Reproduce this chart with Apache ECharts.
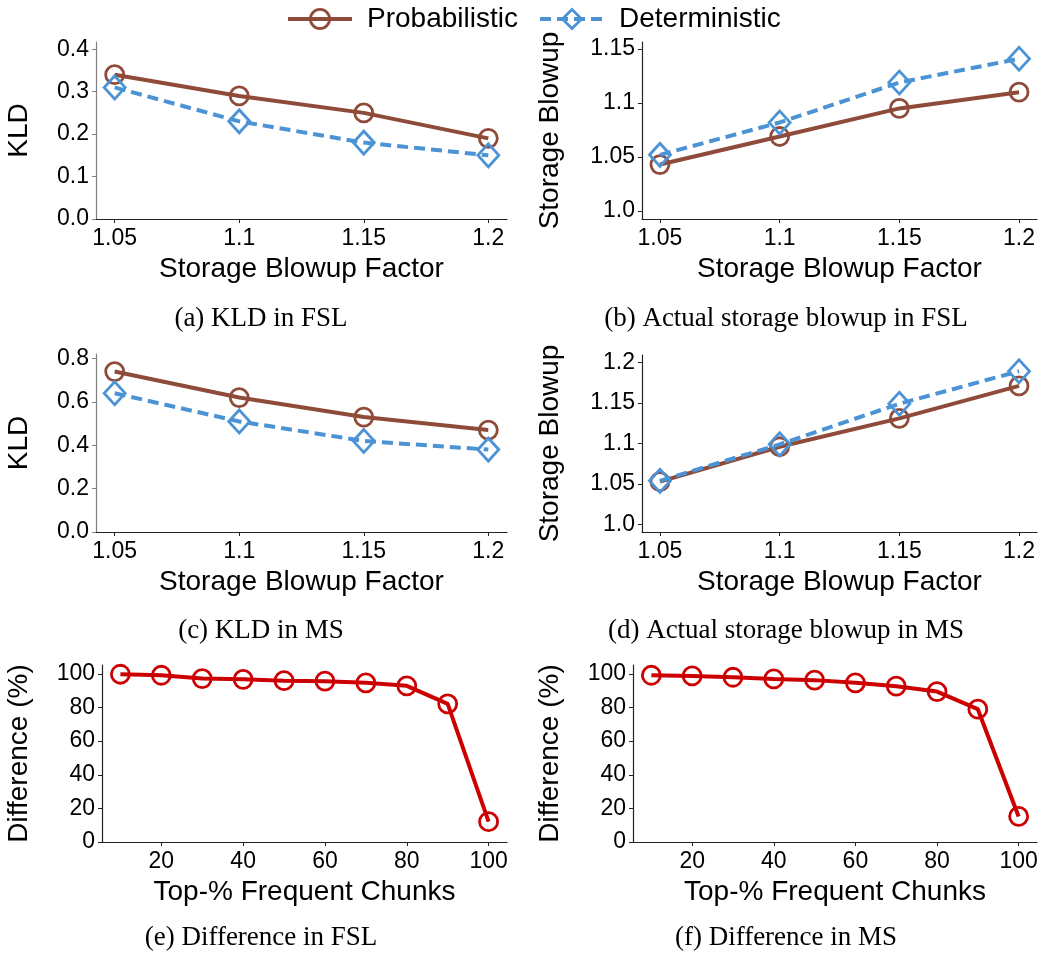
<!DOCTYPE html>
<html><head><meta charset="utf-8">
<script src="https://cdn.jsdelivr.net/npm/echarts@6/dist/echarts.min.js"></script>
<style>html,body{margin:0;padding:0;background:#fff}#c{width:1044px;height:955px}</style>
</head><body><div id="c"></div><script>
// ---------- data ----------
const blowupFactors = [1.05, 1.1, 1.15, 1.2];
const blowupTickLabels = ['1.05', '1.1', '1.15', '1.2'];
const kldFslProb = [0.34, 0.29, 0.25, 0.19];
const kldFslDet = [0.31, 0.23, 0.18, 0.15];
const blowFslProb = [1.043, 1.069, 1.095, 1.110];
const blowFslDet = [1.052, 1.082, 1.119, 1.141];
const kldMsProb = [0.74, 0.62, 0.53, 0.47];
const kldMsDet = [0.64, 0.51, 0.42, 0.38];
const blowMsProb = [1.053, 1.096, 1.131, 1.171];
const blowMsDet = [1.054, 1.099, 1.149, 1.189];
const topPercent = [10, 20, 30, 40, 50, 60, 70, 80, 90, 100];
const diffFsl = [99.8, 99.2, 97.2, 96.8, 96.0, 95.7, 94.7, 92.9, 82.2, 12.1];
const diffMs = [99.2, 98.8, 98.0, 97.0, 96.3, 94.7, 92.7, 89.5, 79.0, 15.2];
const topTicks = [20, 40, 60, 80, 100];
const topTickLabels = ['20', '40', '60', '80', '100'];
const kldFslTicks = [0, 0.1, 0.2, 0.3, 0.4];
const kldFslTickLabels = ['0.0', '0.1', '0.2', '0.3', '0.4'];
const blowFslTicks = [1.0, 1.05, 1.1, 1.15];
const blowFslTickLabels = ['1.0', '1.05', '1.1', '1.15'];
const kldMsTicks = [0, 0.2, 0.4, 0.6, 0.8];
const kldMsTickLabels = ['0.0', '0.2', '0.4', '0.6', '0.8'];
const blowMsTicks = [1.0, 1.05, 1.1, 1.15, 1.2];
const blowMsTickLabels = ['1.0', '1.05', '1.1', '1.15', '1.2'];
const diffTicks = [0, 20, 40, 60, 80, 100];
const diffTickLabels = ['0', '20', '40', '60', '80', '100'];
const captions = ['(a) KLD in FSL', '(b) Actual storage blowup in FSL', '(c) KLD in MS',
  '(d) Actual storage blowup in MS', '(e) Difference in FSL', '(f) Difference in MS'];
const seriesNames = ['Probabilistic', 'Deterministic'];

// ---------- style / layout ----------
const BROWN = '#8f4b39', BLUE = '#4b93d4', RED = '#cc0000';
const SANS = '"Liberation Sans", Arial, Helvetica, sans-serif';
const SERIF = '"Liberation Serif", "Times New Roman", serif';
const TICK_FS = 23, NAME_FS = 28;

const grids = [
  {left: 96, top: 42, width: 411, height: 177},
  {left: 642, top: 42, width: 395, height: 177},
  {left: 96, top: 354, width: 411, height: 178},
  {left: 642, top: 355, width: 395, height: 177},
  {left: 102, top: 665, width: 405, height: 177},
  {left: 633, top: 665, width: 404, height: 177}
];

function pairs(xs, ys) { return xs.map((x, i) => [x, ys[i]]); }
function lbl(ticks, labels) { return v => { const i = ticks.findIndex(t => Math.abs(t - v) < 1e-9); return i >= 0 ? labels[i] : ''; }; }

function xAxis(idx, min, max, ticks, labels, name) {
  return {
    type: 'value', gridIndex: idx, min, max,
    name, nameLocation: 'middle', nameGap: 36,
    nameTextStyle: {fontFamily: SANS, fontSize: NAME_FS, color: '#000'},
    axisLine: {show: true, onZero: false, lineStyle: {color: '#222', width: 1.2}},
    axisTick: {show: true, customValues: ticks, length: 4, lineStyle: {color: '#222'}},
    axisLabel: {customValues: ticks, formatter: lbl(ticks, labels), fontFamily: SANS, fontSize: TICK_FS, color: '#000', margin: 8},
    splitLine: {show: false}
  };
}
function yAxis(idx, min, max, ticks, labels, name, gap, lineColor) {
  return {
    type: 'value', gridIndex: idx, min, max,
    name, nameLocation: 'middle', nameGap: gap,
    nameTextStyle: {fontFamily: SANS, fontSize: NAME_FS, color: '#000'},
    axisLine: {show: true, onZero: false, lineStyle: {color: lineColor, width: 1.2}},
    axisTick: {show: true, customValues: ticks, length: 4, lineStyle: {color: lineColor}},
    axisLabel: {customValues: ticks, formatter: lbl(ticks, labels), fontFamily: SANS, fontSize: TICK_FS, color: '#000', margin: 7},
    splitLine: {show: false}
  };
}
function probSeries(idx, ys) {
  return {
    name: seriesNames[0], type: 'line', xAxisIndex: idx, yAxisIndex: idx,
    data: pairs(blowupFactors, ys), symbol: 'circle', symbolSize: 18,
    lineStyle: {color: BROWN, width: 4},
    itemStyle: {color: 'rgba(0,0,0,0)', borderColor: BROWN, borderWidth: 2.8},
    z: 3, animation: false
  };
}
function detSeries(idx, ys) {
  return {
    name: seriesNames[1], type: 'line', xAxisIndex: idx, yAxisIndex: idx,
    data: pairs(blowupFactors, ys), symbol: 'diamond', symbolSize: [21, 23],
    lineStyle: {color: BLUE, width: 4, type: [11, 6]},
    itemStyle: {color: 'rgba(0,0,0,0)', borderColor: BLUE, borderWidth: 2.8},
    z: 4, animation: false
  };
}
function diffSeries(idx, ys, name) {
  return {
    name, type: 'line', xAxisIndex: idx, yAxisIndex: idx,
    data: pairs(topPercent, ys), symbol: 'circle', symbolSize: 18,
    lineStyle: {color: RED, width: 4},
    itemStyle: {color: 'rgba(0,0,0,0)', borderColor: RED, borderWidth: 2.8},
    animation: false
  };
}

const capY = [319, 319, 631, 631, 938, 938];
const capX = [261, 786, 261, 786, 261, 786];

function legendFor(name, left, color, dash, w) {
  return {
    left, top: 0, data: [name], itemWidth: w, itemHeight: 24, selectedMode: false,
    lineStyle: {width: 4, color, type: dash},
    itemStyle: {borderWidth: 2.8, borderColor: color, color: 'rgba(0,0,0,0)'},
    textStyle: {fontFamily: SANS, fontSize: NAME_FS, color: '#000', padding: [0, 0, 0, 10]}
  };
}

const option = {
  backgroundColor: '#fff',
  animation: false,
  grid: grids,
  legend: [
    legendFor(seriesNames[0], 281, BROWN, 'solid', 64),
    legendFor(seriesNames[1], 533, BLUE, [11, 6], 64)
  ],
  xAxis: [
    xAxis(0, 1.0425, 1.2075, blowupFactors, blowupTickLabels, 'Storage Blowup Factor'),
    xAxis(1, 1.0425, 1.2075, blowupFactors, blowupTickLabels, 'Storage Blowup Factor'),
    xAxis(2, 1.0425, 1.2075, blowupFactors, blowupTickLabels, 'Storage Blowup Factor'),
    xAxis(3, 1.0425, 1.2075, blowupFactors, blowupTickLabels, 'Storage Blowup Factor'),
    xAxis(4, 5.5, 104.5, topTicks, topTickLabels, 'Top-% Frequent Chunks'),
    xAxis(5, 5.5, 104.5, topTicks, topTickLabels, 'Top-% Frequent Chunks')
  ],
  yAxis: [
    yAxis(0, 0, 0.417, kldFslTicks, kldFslTickLabels, 'KLD', 63, '#808080'),
    yAxis(1, 0.9926, 1.1565, blowFslTicks, blowFslTickLabels, 'Storage Blowup', 78, '#222'),
    yAxis(2, 0, 0.821, kldMsTicks, kldMsTickLabels, 'KLD', 63, '#808080'),
    yAxis(3, 0.991, 1.209, blowMsTicks, blowMsTickLabels, 'Storage Blowup', 78, '#222'),
    yAxis(4, 0, 105.3, diffTicks, diffTickLabels, 'Difference (%)', 69, '#222'),
    yAxis(5, 0, 105.3, diffTicks, diffTickLabels, 'Difference (%)', 69, '#222')
  ],
  series: [
    probSeries(0, kldFslProb), detSeries(0, kldFslDet),
    probSeries(1, blowFslProb), detSeries(1, blowFslDet),
    probSeries(2, kldMsProb), detSeries(2, kldMsDet),
    probSeries(3, blowMsProb), detSeries(3, blowMsDet),
    diffSeries(4, diffFsl, 'Difference FSL'), diffSeries(5, diffMs, 'Difference MS')
  ],
  graphic: captions.map((t, i) => ({
    type: 'text', x: capX[i], y: capY[i],
    style: {text: t, fontFamily: SERIF, fontSize: 27, fill: '#000', align: 'center', verticalAlign: 'middle'}
  }))
};
const chart = echarts.init(document.getElementById('c'), null, {renderer: 'canvas'});
chart.setOption(option);
</script></body></html>
